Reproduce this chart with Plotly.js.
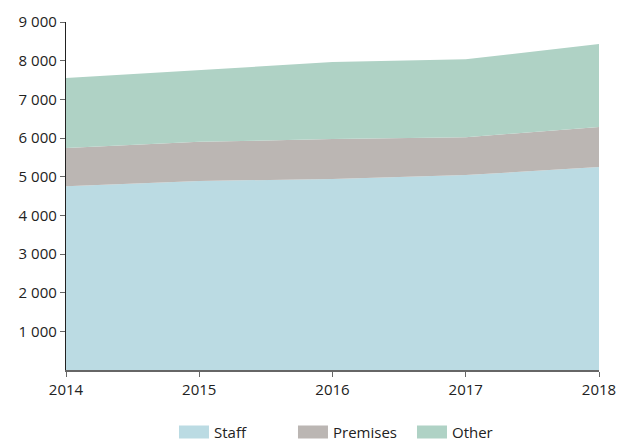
<!DOCTYPE html>
<html>
<head>
<meta charset="utf-8">
<script src="https://cdn.plot.ly/plotly-3.0.1.min.js"></script>
<style>html,body{margin:0;padding:0;background:#fff;}#chart{width:624px;height:441px;}</style>
</head>
<body>
<div id="chart"></div>
<script>
const years = [2014, 2015, 2016, 2017, 2018];
const staff = [4750, 4890, 4940, 5040, 5250];
const premises = [990, 1010, 1035, 980, 1035];
const other = [1810, 1860, 1990, 2015, 2145];
const yTickVals = [1000, 2000, 3000, 4000, 5000, 6000, 7000, 8000, 9000];
const yTickText = ['1 000', '2 000', '3 000', '4 000', '5 000', '6 000', '7 000', '8 000', '9 000'];
const xTickText = ['2014', '2015', '2016', '2017', '2018'];

const series = [
  {name: 'Staff', y: staff, color: '#bbdbe3'},
  {name: 'Premises', y: premises, color: '#bbb6b3'},
  {name: 'Other', y: other, color: '#afd2c5'}
];

const traces = series.map(s => ({
  type: 'scatter', mode: 'lines', x: years, y: s.y, name: s.name,
  stackgroup: 'one', fillcolor: s.color, line: {width: 0, color: s.color},
  hoverinfo: 'skip'
}));

const layout = {
  width: 624, height: 441,
  margin: {l: 66, r: 25, t: 22, b: 71, autoexpand: false},
  paper_bgcolor: '#fff', plot_bgcolor: '#fff',
  font: {family: 'Open Sans, Noto Sans, sans-serif', size: 15, color: '#222'},
  showlegend: true,
  legend: {orientation: 'h', x: 0.2026, xanchor: 'left', xref: 'paper',
           y: 0.02, yanchor: 'middle', yref: 'container',
           entrywidth: 74, entrywidthmode: 'pixels',
           font: {size: 15, color: '#222'}, traceorder: 'normal', itemwidth: 30},
  xaxis: {
    range: [2014, 2018], tickvals: years, ticktext: xTickText,
    showgrid: false, zeroline: false, showline: true, linecolor: '#666', linewidth: 1.5,
    ticks: 'outside', ticklen: 5, tickcolor: '#666', tickfont: {size: 15, color: '#222'}
  },
  yaxis: {
    range: [0, 9000], tickvals: yTickVals, ticktext: yTickText,
    showgrid: false, zeroline: false, showline: true, linecolor: '#222', linewidth: 1.2,
    ticks: 'outside', ticklen: 5, tickcolor: '#666', tickfont: {size: 15, color: '#222'}
  }
};

Plotly.newPlot('chart', traces, layout, {displayModeBar: false, staticPlot: true}).then(gd => {
  gd.querySelectorAll('.legend .legendfill path').forEach(p => {
    p.setAttribute('d', 'M5,-6.5h30v13h-30z');
  });
});
</script>
</body>
</html>
